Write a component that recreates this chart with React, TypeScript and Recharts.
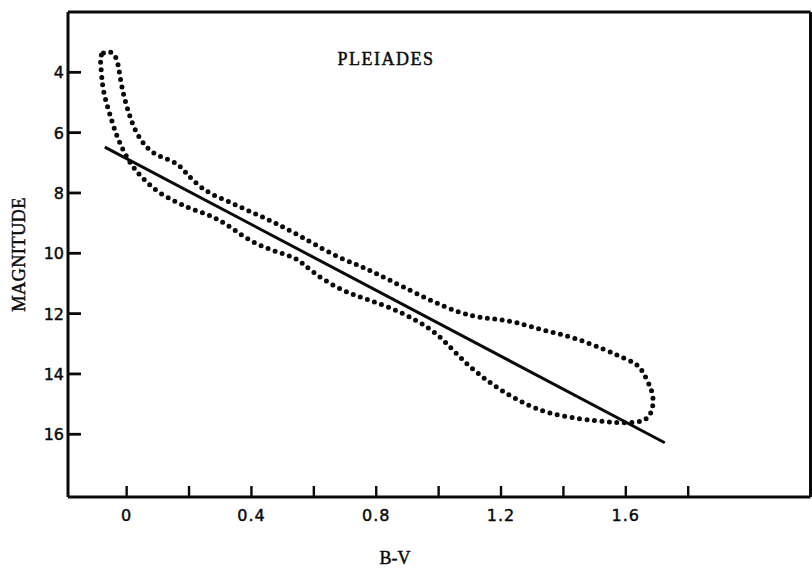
import { Line, LineChart, ReferenceLine, XAxis, YAxis } from "recharts";

// B-V colour axis
const bvTicks = [0, 0.2, 0.4, 0.6, 0.8, 1.0, 1.2, 1.4, 1.6, 1.8];
const bvLabels = ["0", "", "0.4", "", "0.8", "", "1.2", "", "1.6", ""];
const bvDomain = [-0.188, 2.192];

// magnitude axis (brighter at the top)
const magTicks = [4, 6, 8, 10, 12, 14, 16];
const magDomain = [2, 18.08];

// dotted envelope of the cluster's stars, walked once around:
// down the lower/left edge, round the red end, back up the upper/right edge
const envelopeBV = [
  -0.059, -0.086, -0.083, -0.08, -0.075, -0.064, -0.051, -0.038, -0.021, 0.0,
  0.027, 0.064, 0.107, 0.16, 0.203, 0.256, 0.299, 0.342, 0.385, 0.438, 0.491,
  0.545, 0.588, 0.673, 0.757, 0.844, 0.929, 0.994, 1.046, 1.1, 1.154, 1.208,
  1.272, 1.346, 1.453, 1.538, 1.603, 1.655, 1.68, 1.69, 1.684, 1.665, 1.646,
  1.613, 1.538, 1.431, 1.335, 1.25, 1.175, 1.111, 1.026, 0.929, 0.844, 0.769,
  0.684, 0.598, 0.534, 0.481, 0.427, 0.374, 0.321, 0.267, 0.224, 0.192, 0.165,
  0.128, 0.085, 0.053, 0.027, 0.011, -0.002, -0.013, -0.021, -0.027, -0.038,
];
const envelopeMag = [
  3.28, 3.39, 3.72, 4.17, 4.61, 5.05, 5.49, 5.93, 6.37, 6.81, 7.25, 7.64, 8.03,
  8.3, 8.52, 8.69, 8.91, 9.19, 9.52, 9.79, 9.99, 10.15, 10.57, 11.16, 11.49,
  11.78, 12.22, 12.65, 13.21, 13.77, 14.21, 14.6, 14.97, 15.3, 15.5, 15.59,
  15.63, 15.59, 15.37, 14.94, 14.54, 14.14, 13.75, 13.55, 13.22, 12.77, 12.56,
  12.28, 12.17, 12.11, 11.82, 11.33, 10.9, 10.5, 10.17, 9.68, 9.3, 9.02, 8.75,
  8.52, 8.25, 8.03, 7.7, 7.36, 7.03, 6.87, 6.7, 6.37, 5.93, 5.49, 5.05, 4.61,
  4.17, 3.72, 3.39,
];

// straight fit through the sequence
const fitBV = [-0.07, 1.725];
const fitMag = [6.48, 16.28];

const envelope = envelopeBV.map((bv, i) => ({ bv, mag: envelopeMag[i] }));
const fit = fitBV.map((bv, i) => ({ bv, mag: fitMag[i] }));

const INK = "#0a0a0a";
const SERIF = "'Liberation Serif', 'Times New Roman', serif";
const SANS = "'DejaVu Sans', sans-serif";
const axisLine = { stroke: INK, strokeWidth: 3 };

// printed text is a little heavy, so give glyphs a thin outline
const heavy = { stroke: INK, strokeWidth: 0.45 };

function BvTick({ x, y, payload }: any) {
  const i = bvTicks.findIndex((t) => Math.abs(t - payload.value) < 1e-9);
  const label = i >= 0 ? bvLabels[i] : "";
  return (
    <g>
      <line x1={x} x2={x} y1={y} y2={y - 11} stroke={INK} strokeWidth={2.4} />
      {label && (
        <text
          x={x}
          y={y + 23.5}
          textAnchor="middle"
          fontFamily={SANS}
          fontSize={16}
          letterSpacing={1}
          fill={INK}
          {...heavy}
        >
          {label}
        </text>
      )}
    </g>
  );
}

function MagTick({ x, y, payload }: any) {
  return (
    <g>
      <line x1={x} x2={x + 13} y1={y} y2={y} stroke={INK} strokeWidth={2.8} />
      <text
        x={x - 4}
        y={y + 6}
        textAnchor="end"
        fontFamily={SANS}
        fontSize={16}
        fill={INK}
        {...heavy}
      >
        {payload.value}
      </text>
    </g>
  );
}

function TitleLabel({ viewBox }: any) {
  return (
    <text
      x={viewBox.x + 318}
      y={viewBox.y + 53}
      textAnchor="middle"
      fontFamily={SERIF}
      fontSize={18}
      letterSpacing={1.5}
      fill={INK}
      {...heavy}
    >
      PLEIADES
    </text>
  );
}

function BvAxisLabel({ viewBox }: any) {
  return (
    <text
      x={viewBox.x + 327}
      y={viewBox.y + 67}
      textAnchor="middle"
      fontFamily={SERIF}
      fontSize={18}
      fill={INK}
      {...heavy}
    >
      B-V
    </text>
  );
}

function MagAxisLabel({ viewBox }: any) {
  const cx = viewBox.x + 25;
  const cy = viewBox.y + viewBox.height / 2;
  return (
    <text
      x={cx}
      y={cy}
      transform={`rotate(-90 ${cx} ${cy})`}
      textAnchor="middle"
      fontFamily={SERIF}
      fontSize={18.5}
      letterSpacing={0.3}
      fill={INK}
      {...heavy}
    >
      MAGNITUDE
    </text>
  );
}

export default function App() {
  return (
    <div style={{ position: "absolute", left: 0, top: 0, background: "#fff" }}>
      <LineChart
        width={812}
        height={571}
        margin={{ top: 12, right: 1.5, bottom: 0, left: 0 }}
      >
        <XAxis
          dataKey="bv"
          type="number"
          domain={bvDomain}
          ticks={bvTicks}
          interval={0}
          allowDataOverflow
          height={74}
          tickSize={0}
          tickMargin={0}
          tickLine={false}
          axisLine={axisLine}
          tick={<BvTick />}
          label={{ content: <BvAxisLabel /> }}
        />
        <YAxis
          type="number"
          domain={magDomain}
          reversed
          ticks={magTicks}
          interval={0}
          allowDataOverflow
          width={68}
          tickSize={0}
          tickMargin={0}
          tickLine={false}
          axisLine={axisLine}
          tick={<MagTick />}
          label={{ content: <MagAxisLabel /> }}
        />
        {/* closing frame: top and right edges of the plot box */}
        <ReferenceLine
          y={magDomain[0]}
          stroke={INK}
          strokeWidth={3}
          label={{ content: <TitleLabel /> }}
        />
        <ReferenceLine x={bvDomain[1]} stroke={INK} strokeWidth={3} />
        <Line
          data={envelope}
          dataKey="mag"
          type="basisClosed"
          stroke={INK}
          strokeWidth={5}
          strokeDasharray="0 7.5"
          strokeLinecap="round"
          dot={false}
          activeDot={false}
          isAnimationActive={false}
        />
        <Line
          data={fit}
          dataKey="mag"
          type="linear"
          stroke={INK}
          strokeWidth={3}
          dot={false}
          activeDot={false}
          isAnimationActive={false}
        />
      </LineChart>
    </div>
  );
}
